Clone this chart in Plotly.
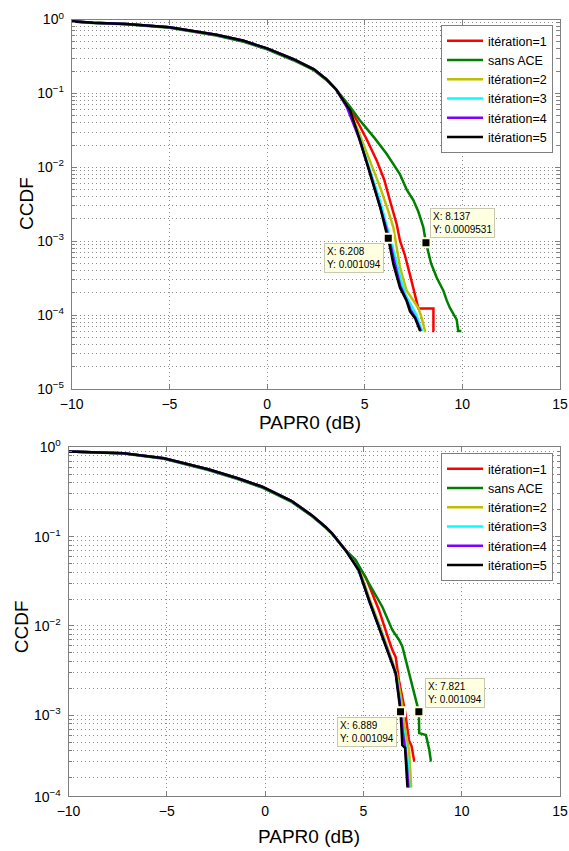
import math
import plotly.graph_objects as go

# ---------------- data: top panel ----------------
top_head_x = [-10, -8.9, -7.2, -5.0, -2.6, -1.2, 0.0, 1.35, 2.4, 3.05, 3.55]
top_head_y = [0.944, 0.905, 0.869, 0.783, 0.622, 0.515, 0.406, 0.290, 0.212, 0.155, 0.112]
top_green_head_y = [0.940, 0.900, 0.862, 0.772, 0.606, 0.500, 0.394, 0.281, 0.206, 0.151, 0.112]

top_red_x = [4.1, 4.6, 5.1, 5.62, 6.0, 6.3, 6.64, 6.81, 7.05, 7.32, 7.5, 7.67, 7.75, 8.52, 8.52, 8.56]
top_red_y = [0.072, 0.043, 0.024, 0.0123, 0.0068, 0.0035, 0.0017, 0.00101, 0.00066, 0.00035, 0.00023,
             0.000155, 0.000123, 0.000123, 0.000061, 0.000061]
top_green_x = [4.25, 4.76, 5.5, 6.13, 6.8, 7.15, 7.49, 7.75, 8.0, 8.137, 8.4, 8.69, 9.03, 9.2, 9.36, 9.71, 9.79, 9.95]
top_green_y = [0.066, 0.043, 0.025, 0.0151, 0.0081, 0.0050, 0.0036, 0.0025, 0.00155, 0.0009531, 0.0005,
               0.00032, 0.000214, 0.000158, 0.000126, 0.000087, 0.000061, 0.000061]
top_yellow_x = [4.1, 4.6, 5.2, 5.79, 6.2, 6.47, 6.6, 6.81, 7.15, 7.49, 7.75, 7.92, 8.09, 8.15]
top_yellow_y = [0.068, 0.0347, 0.0135, 0.0054, 0.0026, 0.00153, 0.00095, 0.00044, 0.000213, 0.000155,
                0.000125, 0.000091, 0.000061, 0.000061]
top_cyan_x = [4.1, 4.7, 5.25, 5.8, 6.1, 6.32, 6.55, 6.85, 7.1, 7.4, 7.65, 7.8, 7.95]
top_cyan_y = [0.066, 0.0265, 0.0098, 0.0034, 0.0017, 0.0011, 0.00062, 0.0003, 0.000185, 0.000135,
              0.0001, 0.000075, 0.000061]
top_purple_x = [4.1, 4.7, 5.25, 5.78, 6.1, 6.26, 6.5, 6.82, 7.1, 7.35, 7.6, 7.88]
top_purple_y = [0.064, 0.0252, 0.0089, 0.003, 0.0015, 0.00108, 0.00055, 0.00025, 0.00017, 0.000118,
                0.000092, 0.000061]
top_black_x = [4.25, 4.76, 5.28, 5.79, 6.1, 6.208, 6.47, 6.81, 7.15, 7.32, 7.58, 7.84]
top_black_y = [0.059, 0.0232, 0.0081, 0.0029, 0.00135, 0.001094, 0.00049, 0.000234, 0.000155, 0.000112,
               0.000091, 0.000061]
top_tip_x = [6.208, 8.137]
top_tip_y = [0.001094, 0.0009531]

# ---------------- data: bottom panel ----------------
bot_head_x = [-10, -7.2, -5.15, -2.9, -1.4, -0.15, 1.35, 2.37, 3.06, 3.4, 4.08]
bot_head_y = [0.90, 0.857, 0.753, 0.567, 0.45, 0.362, 0.25, 0.174, 0.129, 0.109, 0.071]
bot_green_head_y = [0.895, 0.850, 0.745, 0.556, 0.44, 0.353, 0.244, 0.170, 0.127, 0.107, 0.071]

bot_red_x = [4.5, 5.11, 5.79, 6.30, 6.47, 6.64, 6.81, 7.12, 7.32, 7.45, 7.58, 7.62]
bot_red_y = [0.055, 0.0355, 0.0151, 0.0069, 0.0054, 0.0045, 0.00245, 0.0011, 0.00052, 0.00045, 0.00031, 0.00031]
bot_green_x = [4.6, 5.28, 5.96, 6.47, 6.81, 6.98, 7.15, 7.32, 7.67, 7.821, 7.84, 8.18, 8.35, 8.43, 8.47]
bot_green_y = [0.055, 0.030, 0.0164, 0.009, 0.007, 0.0059, 0.0042, 0.00295, 0.00148, 0.001094, 0.00063,
               0.0006, 0.00041, 0.00031, 0.00031]
bot_yellow_x = [4.55, 4.9, 5.35, 5.85, 6.35, 6.7, 6.95, 7.07, 7.2, 7.32, 7.38, 7.43]
bot_yellow_y = [0.05, 0.037, 0.019, 0.0098, 0.0049, 0.0029, 0.0014, 0.00081, 0.00055, 0.00041, 0.00025, 0.000155]
bot_cyan_x = [4.55, 4.85, 5.32, 5.82, 6.32, 6.66, 6.92, 7.02, 7.15, 7.28, 7.34]
bot_cyan_y = [0.05, 0.037, 0.0185, 0.0095, 0.0048, 0.0029, 0.0012, 0.0007, 0.00045, 0.00028, 0.000155]
bot_purple_x = [4.76, 5.3, 5.8, 6.31, 6.65, 6.9, 7.0, 7.13, 7.22, 7.29]
bot_purple_y = [0.0423, 0.019, 0.0097, 0.0048, 0.0029, 0.00115, 0.00065, 0.00042, 0.00025, 0.000155]
bot_black_x = [4.76, 5.28, 5.79, 6.30, 6.64, 6.889, 6.93, 6.98, 7.12, 7.15, 7.2, 7.24]
bot_black_y = [0.0423, 0.0195, 0.0098, 0.0049, 0.00295, 0.001094, 0.00075, 0.00046, 0.00043, 0.00031,
               0.00023, 0.000155]
bot_tip_x = [6.889, 7.821]
bot_tip_y = [0.001094, 0.001094]

series_names = ["itération=1", "sans ACE", "itération=2", "itération=3", "itération=4", "itération=5"]
series_colors = ["#FF0000", "#008000", "#BFBF00", "#00FFFF", "#8000FF", "#000000"]

x_ticks = [-10, -5, 0, 5, 10, 15]
x_ticktext = ["−10", "−5", "0", "5", "10", "15"]
top_yticks = [1e-5, 1e-4, 1e-3, 1e-2, 1e-1, 1]
top_yticktext = ["10<sup>−5</sup>", "10<sup>−4</sup>", "10<sup>−3</sup>", "10<sup>−2</sup>",
                 "10<sup>−1</sup>", "10<sup>0</sup>"]
bot_yticks = [1e-3, 1e-2, 1e-1, 1]
bot_yticktext = ["10<sup>−3</sup>", "10<sup>−2</sup>", "10<sup>−1</sup>", "10<sup>0</sup>"]

FONT = "Arial, Liberation Sans, sans-serif"
W, H = 569, 851


def xp(px):
    return px / W


def yp(py):
    return 1 - py / H


fig = go.Figure()

top_tails = [(top_red_x, top_red_y), (top_green_x, top_green_y), (top_yellow_x, top_yellow_y),
             (top_cyan_x, top_cyan_y), (top_purple_x, top_purple_y), (top_black_x, top_black_y)]
bot_tails = [(bot_red_x, bot_red_y), (bot_green_x, bot_green_y), (bot_yellow_x, bot_yellow_y),
             (bot_cyan_x, bot_cyan_y), (bot_purple_x, bot_purple_y), (bot_black_x, bot_black_y)]

for i, (tx, ty) in enumerate(top_tails):
    hy = top_green_head_y if i == 1 else top_head_y
    fig.add_trace(go.Scatter(x=top_head_x + tx, y=hy + ty, mode="lines", name=series_names[i],
                             line=dict(color=series_colors[i], width=2.5), xaxis="x", yaxis="y",
                             legend="legend"))
for i, (tx, ty) in enumerate(bot_tails):
    hy = bot_green_head_y if i == 1 else bot_head_y
    fig.add_trace(go.Scatter(x=bot_head_x + tx, y=hy + ty, mode="lines", name=series_names[i],
                             line=dict(color=series_colors[i], width=2.5), xaxis="x2", yaxis="y2",
                             legend="legend2"))

tip_marker = dict(symbol="square", size=9, color="black", line=dict(color="#FFFFE1", width=2))
fig.add_trace(go.Scatter(x=top_tip_x, y=top_tip_y, mode="markers", marker=tip_marker,
                         showlegend=False, xaxis="x", yaxis="y"))
fig.add_trace(go.Scatter(x=bot_tip_x, y=bot_tip_y, mode="markers", marker=tip_marker,
                         showlegend=False, xaxis="x2", yaxis="y2"))

GRID = "#8C8C8C"
DOT = "1px,3px"
axis_common = dict(showline=True, linecolor="#7F7F7F", linewidth=1, mirror="ticks",
                   ticks="inside", ticklen=5, tickcolor="#7F7F7F", zeroline=False,
                   showgrid=True, gridcolor=GRID, griddash=DOT, gridwidth=1, automargin=False,
                   tickfont=dict(family=FONT, size=14, color="black"))

xdict = dict(range=[-10, 15], tickmode="array", tickvals=x_ticks, ticktext=x_ticktext,
             ticklabelstandoff=2, **axis_common)
minor = dict(showgrid=True, gridcolor=GRID, griddash=DOT, gridwidth=1,
             ticks="inside", ticklen=3, tickcolor="#7F7F7F", dtick="D1")

legend_style = dict(xanchor="right", yanchor="top", bgcolor="white", bordercolor="#7F7F7F",
                    borderwidth=1, itemwidth=36, font=dict(family=FONT, size=12.5, color="black"))

fig.update_layout(
    template="none",
    width=W, height=H, margin=dict(l=0, r=0, t=0, b=0, autoexpand=False),
    paper_bgcolor="white", plot_bgcolor="white",
    font=dict(family=FONT, color="black"),
    xaxis=dict(domain=[xp(71.7), xp(560)], anchor="y", **xdict),
    yaxis=dict(domain=[yp(389), yp(19.5)], anchor="x", type="log", range=[-5, 0],
               tickmode="array", tickvals=top_yticks, ticktext=top_yticktext,
               ticklabelstandoff=4, minor=minor, **axis_common),
    xaxis2=dict(domain=[xp(68.5), xp(560)], anchor="y2", **xdict),
    yaxis2=dict(domain=[yp(796), yp(447.3)], anchor="x2", type="log", range=[-3.905, 0],
                tickmode="array", tickvals=bot_yticks, ticktext=bot_yticktext,
                ticklabelstandoff=4, minor=minor, **axis_common),
    legend=dict(x=xp(553), y=yp(25), **legend_style),
    legend2=dict(x=xp(553), y=yp(453), **legend_style),
    showlegend=True,
)


def tip_text(x, y):
    return f"X: {x}<br>Y: {y}"


tip_style = dict(showarrow=False, align="left", bgcolor="#FFFFE1", bordercolor="#C8C8B0",
                 borderwidth=1, borderpad=2, font=dict(family=FONT, size=10, color="black"),
                 xanchor="center", yanchor="middle")
annots = [
    dict(x=top_tip_x[0], y=math.log10(top_tip_y[0]), xref="x", yref="y",
         text=tip_text(top_tip_x[0], top_tip_y[0]), xshift=-34, yshift=-20, **tip_style),
    dict(x=top_tip_x[1], y=math.log10(top_tip_y[1]), xref="x", yref="y",
         text=tip_text(top_tip_x[1], top_tip_y[1]), xshift=37, yshift=20, **tip_style),
    dict(x=bot_tip_x[0], y=math.log10(bot_tip_y[0]), xref="x2", yref="y2",
         text=tip_text(bot_tip_x[0], bot_tip_y[0]), xshift=-34, yshift=-20, **tip_style),
    dict(x=bot_tip_x[1], y=math.log10(bot_tip_y[1]), xref="x2", yref="y2",
         text=tip_text(bot_tip_x[1], bot_tip_y[1]), xshift=36, yshift=19, **tip_style),
]
title_font = dict(family=FONT, size=19, color="black")
annots += [
    dict(text="CCDF", x=xp(26.5), y=yp(203.5), xref="paper", yref="paper", textangle=-90,
         showarrow=False, font=title_font, xanchor="center", yanchor="middle"),
    dict(text="CCDF", x=xp(21.5), y=yp(626.7), xref="paper", yref="paper", textangle=-90,
         showarrow=False, font=title_font, xanchor="center", yanchor="middle"),
    dict(text="PAPR0 (dB)", x=xp(310), y=yp(422.7), xref="paper", yref="paper",
         showarrow=False, font=title_font, xanchor="center", yanchor="middle"),
    dict(text="PAPR0 (dB)", x=xp(309), y=yp(836), xref="paper", yref="paper",
         showarrow=False, font=title_font, xanchor="center", yanchor="middle"),
    dict(text="10<sup>−4</sup>", x=xp(63), y=yp(796), xref="paper", yref="paper",
         showarrow=False, font=dict(family=FONT, size=14, color="black"),
         xanchor="right", yanchor="middle"),
]
fig.update_layout(annotations=annots)

# remove the browser's default 8px body margin so the figure fills the window exactly
fig.write_html("out.html", config={"displayModeBar": False},
               post_script="document.body.style.margin='0';document.body.style.overflow='hidden';")
